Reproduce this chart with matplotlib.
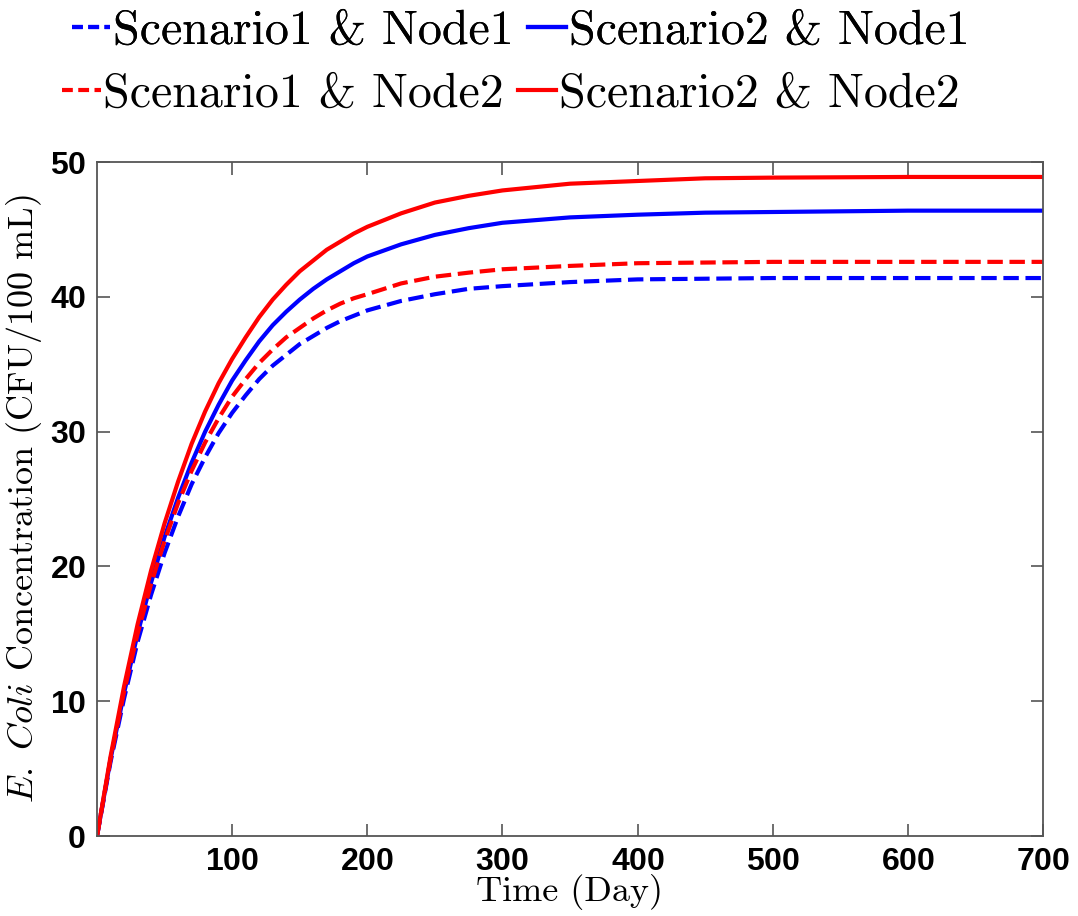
import matplotlib
matplotlib.use("Agg")
import matplotlib.pyplot as plt
from matplotlib.lines import Line2D

plt.rcParams["mathtext.fontset"] = "cm"
plt.rcParams["axes.formatter.use_mathtext"] = True

# time in days and E. coli concentration (CFU/100 mL)
DAYS = [0, 10, 20, 30, 40, 50, 60, 70, 80, 90, 100, 110, 120, 130, 140, 150, 160, 170, 180,
        190, 200, 225, 250, 275, 300, 350, 400, 450, 500, 600, 700]
S1_NODE1 = [0, 5.5, 10.2, 14.4, 17.9, 21.0, 23.7, 26.1, 28.1, 29.9, 31.4, 32.7, 33.9, 34.9, 35.7,
            36.5, 37.1, 37.7, 38.2, 38.6, 39.0, 39.7, 40.2, 40.6, 40.8, 41.1, 41.3, 41.35, 41.4,
            41.4, 41.4]
S2_NODE1 = [0, 5.7, 10.6, 15.0, 18.8, 22.2, 25.1, 27.7, 30.0, 32.0, 33.8, 35.3, 36.7, 37.9, 38.9,
            39.8, 40.6, 41.3, 41.9, 42.5, 43.0, 43.9, 44.6, 45.1, 45.5, 45.9, 46.1, 46.25, 46.3,
            46.4, 46.4]
S1_NODE2 = [0, 5.7, 10.7, 15.0, 18.7, 21.9, 24.7, 27.1, 29.2, 31.0, 32.6, 33.9, 35.1, 36.1, 37.0,
            37.7, 38.4, 39.0, 39.5, 39.9, 40.2, 41.0, 41.5, 41.8, 42.05, 42.3, 42.5, 42.55, 42.6,
            42.6, 42.6]
S2_NODE2 = [0, 5.9, 11.1, 15.7, 19.7, 23.2, 26.3, 29.1, 31.5, 33.6, 35.4, 37.0, 38.5, 39.8, 40.9,
            41.9, 42.7, 43.5, 44.1, 44.7, 45.2, 46.2, 47.0, 47.5, 47.9, 48.4, 48.6, 48.8, 48.85,
            48.9, 48.9]

SERIES = [
    ("Scenario1 & Node1", S1_NODE1, "#0000ff", "--"),
    ("Scenario2 & Node1", S2_NODE1, "#0000ff", "-"),
    ("Scenario1 & Node2", S1_NODE2, "#ff0000", "--"),
    ("Scenario2 & Node2", S2_NODE2, "#ff0000", "-"),
]
XTICKS = [100, 200, 300, 400, 500, 600, 700]
YTICKS = [0, 10, 20, 30, 40, 50]

fig = plt.figure(figsize=(10.78, 9.16), dpi=100)
ax = fig.add_axes([0.090, 0.0873, 0.8775, 0.7357])

for label, vals, color, ls in SERIES:
    ax.plot(DAYS, vals, color=color, linestyle=ls, linewidth=3, label=label)

ax.set_xlim(0, 700)
ax.set_ylim(0, 50)
ax.set_xticks(XTICKS)
ax.set_yticks(YTICKS)
ax.tick_params(direction="in", length=9, width=1.2, top=True, right=True,
               color="#555555", pad=8)
for lab in ax.get_xticklabels() + ax.get_yticklabels():
    lab.set_fontfamily("Liberation Sans")
    lab.set_fontsize(23)
    lab.set_fontweight("bold")
for sp in ax.spines.values():
    sp.set_color("#555555")
    sp.set_linewidth(1.3)

ax.set_xlabel("Time (Day)", fontsize=26, family="cmr10", labelpad=-2)
ax.set_ylabel(r"$\mathit{E.\ Coli}$ Concentration (CFU/100 mL)",
              fontsize=26, family="cmr10", labelpad=4)

# two legend rows, each centred on its own like the original
handles = [Line2D([], [], color=c, linestyle=ls, linewidth=3, dashes=(2.6, 1.3) if ls == "--" else (None, None))
           for _, _, c, ls in SERIES]
labels = [s[0] for s in SERIES]
leg_kw = dict(ncol=2, frameon=False, prop={"family": "cmr10", "size": 34.5},
              handlelength=0.8, handletextpad=0.05, columnspacing=0.3,
              borderpad=0, borderaxespad=0)
leg1 = fig.legend(handles[:2], labels[:2], loc="center", bbox_to_anchor=(0.483, 0.965), **leg_kw)
fig.add_artist(leg1)
fig.legend(handles[2:], labels[2:], loc="center", bbox_to_anchor=(0.474, 0.897), **leg_kw)

fig.savefig("out.png", dpi=100)
